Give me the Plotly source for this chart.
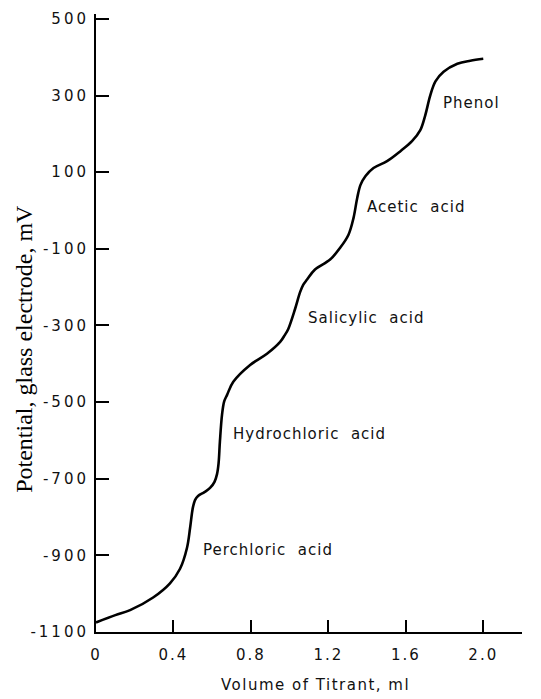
import plotly.graph_objects as go

# Titration curve: volume of titrant (ml) vs glass-electrode potential (mV)
volume_ml = [0.0, 0.1, 0.176, 0.295, 0.382, 0.434, 0.47, 0.486, 0.50, 0.512,
             0.527, 0.56, 0.589, 0.612, 0.625, 0.633, 0.64, 0.651, 0.662,
             0.677, 0.709, 0.796, 0.883, 0.951, 0.975, 0.993, 1.028, 1.054,
             1.07, 1.09, 1.131, 1.209, 1.261, 1.304, 1.330, 1.349, 1.366,
             1.392, 1.433, 1.503, 1.572, 1.632, 1.674, 1.700, 1.726, 1.753,
             1.795, 1.866, 1.933, 2.0]
potential_mv = [-1075, -1056, -1043, -1010, -973, -935, -880, -828, -776, -755,
                -745, -735, -724, -708, -688, -660, -602, -532, -498,
                -481, -447, -403, -374, -343, -325, -309, -257, -213,
                -194, -180, -154, -128, -97, -63, -19, 33, 67,
                90, 111, 129, 155, 181, 209, 248, 300, 337,
                362, 383, 391, 396]

# Acid labels placed beside each inflection
acid_names = ["Phenol", "Acetic  acid", "Salicylic  acid",
              "Hydrochloric  acid", "Perchloric  acid"]
acid_x = [1.783, 1.39, 1.085, 0.698, 0.543]
acid_y = [282, 10, -281, -584, -885]

y_ticks = [500, 300, 100, -100, -300, -500, -700, -900, -1100]
x_ticks = [0, 0.4, 0.8, 1.2, 1.6, 2.0]
x_tick_text = ["0", "0.4", "0.8", "1.2", "1.6", "2.0"]

x_title = "Volume of Titrant, ml"
y_title = "Potential, glass electrode, mV"

SANS = "DejaVu Sans"
SERIF = "Liberation Serif"


def spaced(s, px):
    return f"<span style='letter-spacing:{px}px'>{s}</span>"


fig = go.Figure()
fig.add_trace(go.Scatter(
    x=volume_ml, y=potential_mv, mode="lines",
    line=dict(color="black", width=2.6, shape="spline", smoothing=1.0),
    hoverinfo="skip", showlegend=False,
))

for name, ax, ay in zip(acid_names, acid_x, acid_y):
    fig.add_annotation(
        x=ax, y=ay, xref="x", yref="y", text=spaced(name, 1),
        showarrow=False, xanchor="left", yanchor="middle",
        font=dict(family=SANS, size=15, color="#111"),
    )

fig.add_annotation(
    x=-0.169, y=-361, xref="paper", yref="y", text=y_title,
    textangle=-90, showarrow=False, xanchor="center", yanchor="middle",
    font=dict(family=SERIF, size=24, color="black"),
)
fig.add_annotation(
    x=(315 - 96) / 426, y=-0.085, xref="paper", yref="paper",
    text=spaced(x_title, 1.5), showarrow=False,
    xanchor="center", yanchor="middle",
    font=dict(family=SANS, size=15, color="#111"),
)

fig.update_xaxes(
    range=[0, 2.2], showgrid=False, zeroline=False,
    showline=True, linecolor="black", linewidth=2,
    ticks="inside", ticklen=12, tickwidth=2, tickcolor="black",
    tickvals=x_ticks, ticktext=[spaced(t, 2) for t in x_tick_text],
    tickfont=dict(family=SANS, size=15, color="#111"),
    ticklabelstandoff=8,
)
fig.update_yaxes(
    range=[-1100, 513], showgrid=False, zeroline=False,
    showline=True, linecolor="black", linewidth=2,
    ticks="inside", ticklen=13, tickwidth=2, tickcolor="black",
    tickvals=y_ticks, ticktext=[spaced(str(v), 3) for v in y_ticks],
    tickfont=dict(family=SANS, size=15, color="#111"),
    ticklabelstandoff=2,
)

fig.update_layout(
    width=541, height=699,
    margin=dict(l=96, r=19, t=10, b=67),
    paper_bgcolor="white", plot_bgcolor="white",
)

fig.write_html("out.html")
